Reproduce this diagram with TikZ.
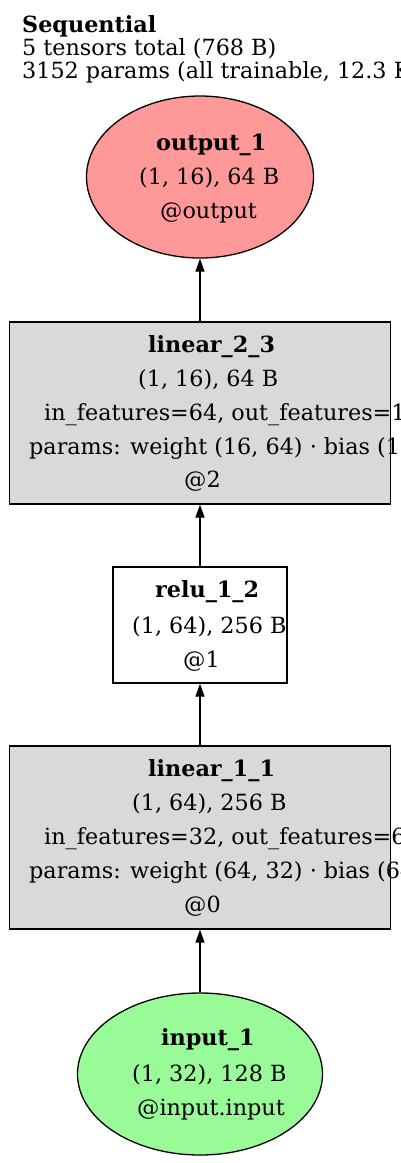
\documentclass[tikz,border=0pt]{standalone}
\usepackage{fontspec}
\setmainfont{DejaVu Serif}
\usetikzlibrary{shapes.geometric,arrows.meta}
\definecolor{outfill}{HTML}{FF9999}
\definecolor{boxfill}{HTML}{D9D9D9}
\definecolor{infill}{HTML}{98FB98}
\tikzset{
  lbl/.style={anchor=base west, inner sep=0pt, font=\fontsize{22.3}{26}\selectfont},
  blbl/.style={lbl, font=\fontsize{22.3}{26}\selectfont\bfseries},
  ovalnode/.style={ellipse, draw=black, line width=1.3pt, inner sep=0pt},
  boxnode/.style={rectangle, draw=black, line width=1.3pt, inner sep=0pt},
  edge/.style={draw=black, line width=1.3pt, -{Triangle[length=13pt,width=9pt]}}
}
\begin{document}
\begin{tikzpicture}[x=1pt,y=-1pt]
\useasboundingbox (0,0) rectangle (400,1163);
% title
\node[blbl] (t1) at (22,32) {Sequential};
\node[lbl] (t2) at (22,55) {5 tensors total (768 B)};
\node[lbl] (t3) at (22,78) {3152 params (all trainable, 12.3 KB)};
% shapes
\node[ovalnode, fill=outfill, minimum width=227pt, minimum height=162pt] (out) at (200,177) {};
\node[boxnode, fill=boxfill, minimum width=381pt, minimum height=182pt] (lin2) at (200,413) {};
\node[boxnode, fill=white, minimum width=174pt, minimum height=116pt] (relu) at (200,625) {};
\node[boxnode, fill=boxfill, minimum width=381pt, minimum height=183pt] (lin1) at (200,837.5) {};
\node[ovalnode, fill=infill, minimum width=245pt, minimum height=162pt] (inp) at (200,1074) {};
% edges
\draw[edge] (inp.north) -- (lin1.south);
\draw[edge] (lin1.north) -- (relu.south);
\draw[edge] (relu.north) -- (lin2.south);
\draw[edge] (lin2.north) -- (out.south);
% output_1
\node[blbl] (o1) at (156,150) {output\_1};
\node[lbl] (o2) at (139,184) {(1, 16), 64 B};
\node[lbl] (o3) at (160,218) {@output};
% linear_2_3
\node[blbl] (a1) at (148,352) {linear\_2\_3};
\node[lbl] (a2) at (138,386) {(1, 16), 64 B};
\node[lbl] (a3) at (44,420) {in\_features=64, out\_features=16};
\node[lbl] (a4) at (29,454) {params: weight (16, 64) · bias (16,)};
\node[lbl] (a5) at (184,487) {@2};
% relu_1_2
\node[blbl] (r1) at (155,597) {relu\_1\_2};
\node[lbl] (r2) at (132,633) {(1, 64), 256 B};
\node[lbl] (r3) at (183,667) {@1};
% linear_1_1
\node[blbl] (b1) at (148,776) {linear\_1\_1};
\node[lbl] (b2) at (132,810) {(1, 64), 256 B};
\node[lbl] (b3) at (44,844) {in\_features=32, out\_features=64};
\node[lbl] (b4) at (29,878) {params: weight (64, 32) · bias (64,)};
\node[lbl] (b5) at (184,912) {@0};
% input_1
\node[blbl] (i1) at (161,1045) {input\_1};
\node[lbl] (i2) at (132,1081) {(1, 32), 128 B};
\node[lbl] (i3) at (137,1115) {@input.input};
\end{tikzpicture}
\end{document}
